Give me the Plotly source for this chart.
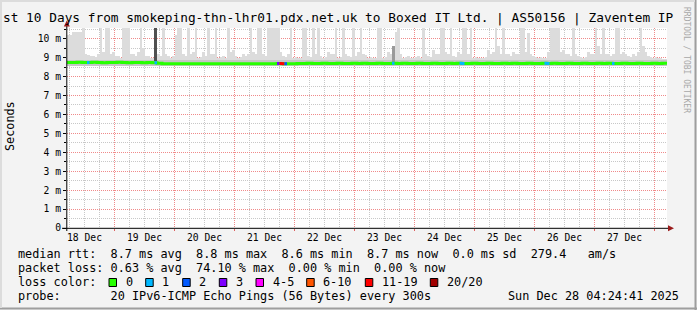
import plotly.graph_objects as go
import pandas as pd

# ---------------- data ----------------
start = pd.Timestamp("2025-12-18 05:05")
span_hours = 240
smoke_step_hours = 1
median_step_hours = 2

# highest ping per hour (ms)
smoke_top = [
    10.20, 10.20, 10.35, 10.35, 10.35, 10.35, 10.60, 9.20, 9.15, 9.10,
    9.10, 9.05, 9.20, 10.60, 9.30, 10.60, 10.60, 9.20, 9.30, 9.10,
    9.10, 9.00, 10.60, 10.60, 10.60, 9.20, 9.20, 9.10, 9.30, 10.60,
    9.50, 9.10, 9.10, 9.00, 9.00, 9.00, 9.20, 9.10, 10.60, 9.20,
    9.10, 9.00, 9.10, 10.20, 10.60, 10.60, 9.20, 9.10, 10.60, 9.20,
    9.30, 10.60, 9.00, 9.05, 9.30, 9.10, 10.60, 9.20, 9.20, 10.60,
    9.00, 9.05, 9.10, 9.00, 10.60, 9.30, 9.40, 9.10, 9.00, 9.05,
    9.20, 9.10, 9.20, 10.60, 9.30, 9.20, 10.60, 10.60, 9.20, 9.10,
    10.60, 10.60, 10.60, 10.60, 10.60, 9.30, 9.10, 9.05, 9.20, 10.60,
    9.00, 9.05, 9.00, 9.00, 10.60, 10.60, 9.10, 9.05, 10.60, 9.20,
    10.60, 9.10, 9.00, 9.05, 9.30, 9.20, 9.20, 10.60, 9.00, 9.05,
    10.60, 9.20, 9.10, 9.05, 10.60, 9.10, 9.30, 10.60, 9.20, 9.15,
    9.00, 9.05, 9.00, 9.00, 10.60, 10.60, 9.00, 9.05, 9.30, 9.20,
    9.20, 10.35, 10.60, 9.20, 9.00, 9.05, 9.10, 9.00, 9.00, 9.05,
    9.10, 9.00, 10.60, 9.20, 9.10, 9.05, 9.40, 9.20, 9.20, 10.60,
    10.60, 9.30, 9.20, 10.60, 9.10, 9.05, 9.30, 9.20, 10.60, 10.60,
    9.20, 10.60, 9.00, 9.05, 8.95, 8.95, 9.00, 9.05, 9.40, 9.20,
    9.30, 10.60, 9.60, 9.20, 10.60, 9.20, 9.20, 9.10, 9.30, 9.20,
    9.20, 10.60, 10.60, 9.30, 10.30, 9.20, 9.10, 9.05, 9.00, 9.05,
    9.00, 9.00, 9.30, 10.60, 10.60, 10.60, 10.60, 9.30, 9.40, 9.20,
    9.20, 9.10, 10.60, 9.20, 9.10, 9.05, 9.00, 9.05, 9.30, 9.20,
    9.20, 10.60, 9.60, 9.20, 10.60, 9.20, 9.20, 9.10, 9.20, 10.60,
    10.60, 9.20, 9.30, 9.20, 9.10, 9.05, 9.20, 9.10, 9.30, 10.60,
    9.60, 9.30, 9.10, 9.05, 9.00, 9.05, 9.00, 9.00, 8.90, 8.90,
]
# lower and upper edge of the dense smoke band around the median (ms)
smoke_floor = [8.56] * 240
smoke_band_top = [8.88] * 240

# median rtt per 2-hour bin (ms)
median_rtt = [
    8.74, 8.74, 8.75, 8.74, 8.74, 8.75, 8.74, 8.73, 8.74, 8.74,
    8.75, 8.74, 8.73, 8.74, 8.74, 8.73, 8.74, 8.73, 8.70, 8.68,
    8.68, 8.67, 8.67, 8.68, 8.67, 8.67, 8.68, 8.67, 8.67, 8.68,
    8.67, 8.67, 8.68, 8.67, 8.67, 8.68, 8.67, 8.68, 8.67, 8.68,
    8.67, 8.67, 8.69, 8.68, 8.67, 8.68, 8.69, 8.69, 8.70, 8.69,
    8.69, 8.70, 8.69, 8.69, 8.70, 8.69, 8.69, 8.70, 8.69, 8.70,
    8.69, 8.69, 8.70, 8.69, 8.69, 8.70, 8.69, 8.70, 8.69, 8.69,
    8.70, 8.69, 8.69, 8.70, 8.69, 8.69, 8.70, 8.69, 8.70, 8.69,
    8.69, 8.70, 8.69, 8.69, 8.70, 8.69, 8.69, 8.70, 8.69, 8.70,
    8.69, 8.69, 8.70, 8.69, 8.69, 8.70, 8.69, 8.70, 8.69, 8.69,
    8.70, 8.69, 8.69, 8.70, 8.69, 8.69, 8.70, 8.69, 8.70, 8.69,
    8.69, 8.70, 8.69, 8.69, 8.70, 8.69, 8.69, 8.70, 8.69, 8.70,
]

# hours (from start) with packet loss, and lost pings out of 20
loss_hours = [8, 35, 84, 85, 86, 87, 130, 157, 158, 191, 192, 218]
loss_pings = [1, 1, 3, 12, 12, 2, 1, 1, 1, 1, 1, 1]

# hourly spikes where most pings were high (ms)
spike_hours = [35, 130]
spike_low = [8.80, 8.78]
spike_high = [10.60, 9.60]

day_labels = ["18 Dec", "19 Dec", "20 Dec", "21 Dec", "22 Dec",
              "23 Dec", "24 Dec", "25 Dec", "26 Dec", "27 Dec"]
y_tick_values = [0, 1, 2, 3, 4, 5, 6, 7, 8, 9, 10]
y_tick_labels = ["0", "1 m", "2 m", "3 m", "4 m", "5 m", "6 m", "7 m", "8 m", "9 m", "10 m"]

rtt_avg, rtt_max, rtt_min, rtt_now, rtt_sd, rtt_ams = 8.7, 8.8, 8.6, 8.7, 0.0, 279.4
loss_avg, loss_max, loss_min, loss_now = 0.63, 74.10, 0.00, 0.00
loss_color_labels = ["0", "1", "2", "3", "4-5", "6-10", "11-19", "20/20"]
probe_text = "20 IPv6-ICMP Echo Pings (56 Bytes) every 300s"
stamp_text = "Sun Dec 28 04:24:41 2025"
title_text = "st 10 Days from smokeping-thn-lhr01.pdx.net.uk to Boxed IT Ltd. | AS50156 | Zaventem IP"

# ---------------- style ----------------
W, H = 697, 310
L, R, T, B = 67, 667, 28, 228
MONO = "DejaVu Sans Mono"
loss_palette = ["#26ff00", "#00b8ff", "#0059ff", "#7e00ff", "#ff00ff", "#ff5500", "#ff0000", "#a10000"]
loss_box_x = [109, 145.7, 182.7, 219.3, 256, 306.7, 365.3, 430.3]


def loss_color(n):
    if n == 0:
        return loss_palette[0]
    if n == 1:
        return loss_palette[1]
    if n == 2:
        return loss_palette[2]
    if n == 3:
        return loss_palette[3]
    if n <= 5:
        return loss_palette[4]
    if n <= 10:
        return loss_palette[5]
    if n <= 19:
        return loss_palette[6]
    return loss_palette[7]


def px(x):
    return (x - L) / (R - L)


def py(y):
    return (B - y) / (B - T)


def nb(s):
    return s.replace(" ", "\u00a0")


hour = pd.Timedelta(hours=1)
n = len(smoke_top)
centers = [start + (i + 0.5) * smoke_step_hours * hour for i in range(n)]
bw = smoke_step_hours * 3600 * 1000

fig = go.Figure()
# light smoke
fig.add_trace(go.Bar(x=centers, y=[t - b for t, b in zip(smoke_top, smoke_band_top)], base=smoke_band_top,
                     width=bw, marker=dict(color="#dcdcdc", line=dict(width=0)), hoverinfo="skip"))
# dense band
fig.add_trace(go.Bar(x=centers, y=[t - b for t, b in zip(smoke_band_top, smoke_floor)], base=smoke_floor,
                     width=bw, marker=dict(color="#c6c6c6", line=dict(width=0)), hoverinfo="skip"))
# spikes
spike_colors = ["#505050", "#9a9a9a"]
fig.add_trace(go.Bar(x=[start + (h + 0.5) * hour for h in spike_hours],
                     y=[hi - lo for hi, lo in zip(spike_high, spike_low)], base=spike_low,
                     width=1.3 * 3600 * 1000, marker=dict(color=spike_colors, line=dict(width=0)),
                     hoverinfo="skip"))
# median line
m = len(median_rtt)
mx = [start + i * median_step_hours * hour for i in range(m)] + [start + m * median_step_hours * hour]
my = median_rtt + [median_rtt[-1]]
fig.add_trace(go.Scatter(x=mx, y=my, mode="lines", line=dict(color=loss_palette[0], width=3, shape="hv"),
                         hoverinfo="skip"))
# loss segments
for h, p in zip(loss_hours, loss_pings):
    v = median_rtt[h // median_step_hours]
    fig.add_trace(go.Scatter(x=[start + h * hour, start + (h + 1) * hour], y=[v, v], mode="lines",
                             line=dict(color=loss_color(p), width=3), hoverinfo="skip"))

shapes = []
# axis lines and arrows
shapes.append(dict(type="line", xref="paper", yref="paper", x0=px(62), x1=px(669), y0=py(228.3), y1=py(228.3),
                   line=dict(color="#000000", width=1)))
shapes.append(dict(type="line", xref="paper", yref="paper", x0=px(66.8), x1=px(66.8), y0=py(231), y1=py(25),
                   line=dict(color="#000000", width=1)))
shapes.append(dict(type="path", xref="paper", yref="paper",
                   path=f"M {px(668)},{py(225.3)} L {px(674)},{py(228.3)} L {px(668)},{py(231.3)} Z",
                   fillcolor="#9a1b1b", line=dict(width=0)))
shapes.append(dict(type="path", xref="paper", yref="paper",
                   path=f"M {px(63.8)},{py(26.5)} L {px(66.8)},{py(20.5)} L {px(69.8)},{py(26.5)} Z",
                   fillcolor="#9a1b1b", line=dict(width=0)))
# image border shading
shapes.append(dict(type="line", xref="paper", yref="paper", x0=px(695.5), x1=px(695.5), y0=py(0), y1=py(310),
                   line=dict(color="#9e9e9e", width=2)))
shapes.append(dict(type="line", xref="paper", yref="paper", x0=px(0), x1=px(697), y0=py(308.5), y1=py(308.5),
                   line=dict(color="#9e9e9e", width=2)))
shapes.append(dict(type="line", xref="paper", yref="paper", x0=px(1), x1=px(1), y0=py(0), y1=py(308),
                   line=dict(color="#dcdcdc", width=2)))
shapes.append(dict(type="line", xref="paper", yref="paper", x0=px(0), x1=px(695), y0=py(1), y1=py(1),
                   line=dict(color="#dcdcdc", width=2)))

annotations = []


def text(x, y, s, size=11.84, anchor="left", color="#000000", angle=0):
    annotations.append(dict(xref="paper", yref="paper", x=px(x), y=py(y), text=nb(s), showarrow=False,
                            xanchor=anchor, yanchor="middle", textangle=angle,
                            font=dict(family=MONO, size=size, color=color)))


# title
text(1, 18, title_text, size=12.8)
# watermark
text(687, 60, "RRDTOOL / TOBI OETIKER", size=8, anchor="center", color="#a8a8a8", angle=90)
# y title
text(10, 126, "Seconds", size=11.8, anchor="center", angle=-90)
# day labels at noon
for d, lab in enumerate(day_labels):
    noon = pd.Timestamp("2025-12-18 12:00") + pd.Timedelta(days=d)
    xpix = L + (noon - start) / hour / span_hours * (R - L)
    text(xpix, 237.5, lab, size=9.7, anchor="center")

# legend rows
row1 = (f"median rtt:  {rtt_avg:.1f} ms avg  {rtt_max:.1f} ms max  {rtt_min:.1f} ms min  "
        f"{rtt_now:.1f} ms now  {rtt_sd:.1f} ms sd  {rtt_ams:.1f}   am/s")
row2 = (f"packet loss: {loss_avg:.2f} % avg  {loss_max:.2f} % max  {loss_min:.2f} % min  "
        f"{loss_now:.2f} % now")
text(16, 254.3, row1)
text(16, 268.2, row2)
text(16, 282.3, "loss color:")
for bx, lab, col in zip(loss_box_x, loss_color_labels, loss_palette):
    shapes.append(dict(type="rect", xref="paper", yref="paper", x0=px(bx), x1=px(bx + 7.5),
                       y0=py(286.5), y1=py(278.5), fillcolor=col, line=dict(color="#000000", width=1)))
    text(bx + 14.5, 282.3, lab)
text(16, 296.3, "probe:       " + probe_text)
text(681, 296.3, stamp_text, anchor="right")

fig.update_layout(
    width=W, height=H,
    margin=dict(l=L, r=W - R, t=T, b=H - B, pad=0),
    paper_bgcolor="#f3f3f3", plot_bgcolor="#ffffff",
    showlegend=False, barmode="overlay", bargap=0,
    shapes=shapes, annotations=annotations,
    xaxis=dict(type="date", range=[start, start + span_hours * hour], showgrid=True,
               gridcolor="#f08a8a", griddash="1px,1px", gridwidth=1,
               tick0="2025-12-19", dtick=86400000, showticklabels=False,
               ticks="outside", ticklen=2, tickcolor="#e06060",
               minor=dict(dtick=6 * 3600000, tick0="2025-12-19", showgrid=True, gridcolor="#c8c8c8",
                          griddash="1px,1px", ticks=""),
               zeroline=False, showline=False, fixedrange=True),
    yaxis=dict(range=[0, 10.565], tickvals=y_tick_values, ticktext=y_tick_labels,
               showgrid=True, gridcolor="#f08a8a", griddash="1px,1px",
               minor=dict(dtick=0.5, tick0=0, showgrid=True, gridcolor="#c8c8c8", griddash="1px,1px",
                          ticks="outside", ticklen=2, tickcolor="#000000"),
               ticks="outside", ticklen=3, tickcolor="#000000",
               tickfont=dict(family=MONO, size=9.7, color="#000000"),
               zeroline=False, showline=False, fixedrange=True),
)

fig.write_html("out.html")
